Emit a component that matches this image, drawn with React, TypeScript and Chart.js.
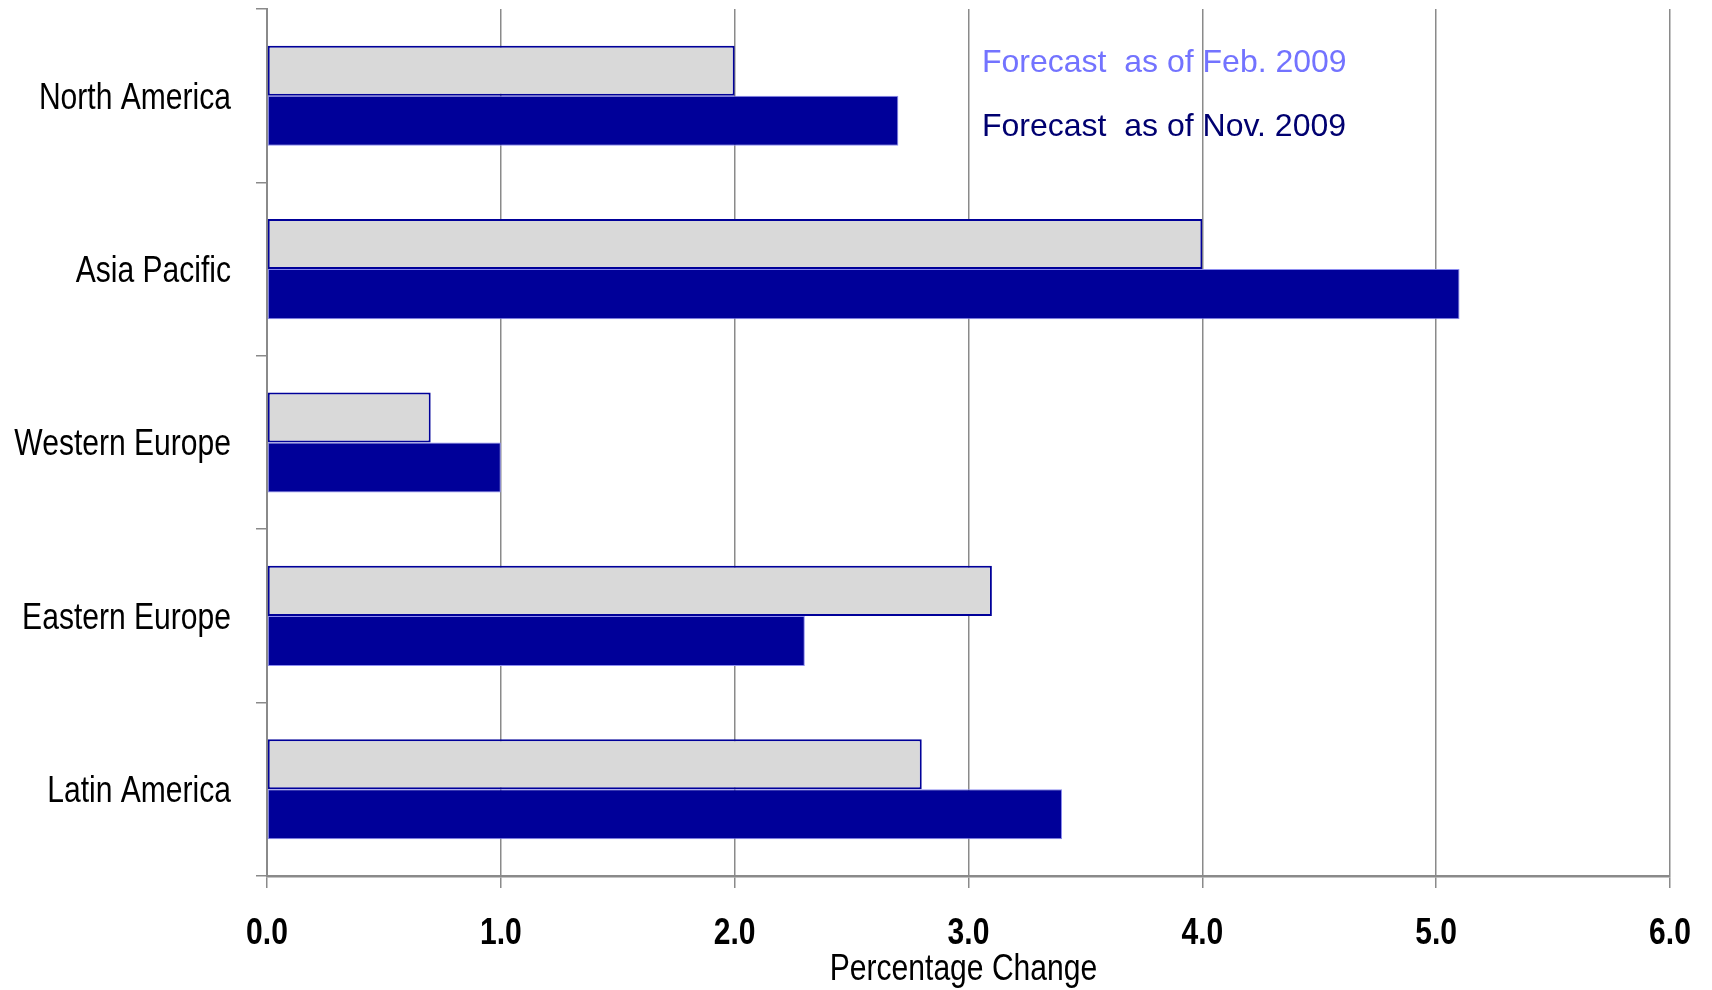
import React, { useEffect, useRef } from "react";
import { Chart, registerables } from "chart.js";

Chart.register(...registerables);

const categories = ["North America", "Asia Pacific", "Western Europe", "Eastern Europe", "Latin America"];
const febForecast = [2.0, 4.0, 0.7, 3.1, 2.8];
const novForecast = [2.7, 5.1, 1.0, 2.3, 3.4];
const seriesLabels = ["Forecast  as of Feb. 2009", "Forecast  as of Nov. 2009"];
const legendColors = ["#7373ff", "#000070"];
const xMin = 0;
const xMax = 6;
const xStep = 1;
const xTitle = "Percentage Change";

const SANS = "'Liberation Sans', Arial, Helvetica, sans-serif";
const NARROW_X = 0.835; // horizontal squeeze to mimic a narrow face
const GRID = "#8a8a8a";

function narrowText(ctx: any, text: string, x: number, y: number, align: string, font: string, color: string) {
  ctx.save();
  ctx.font = font;
  ctx.fillStyle = color;
  ctx.textAlign = align;
  ctx.textBaseline = "alphabetic";
  ctx.translate(x, y);
  ctx.scale(NARROW_X, 1);
  ctx.fillText(text, 0, 0);
  ctx.restore();
}

const textPlugin = {
  id: "narrowLabels",
  afterDraw(chart: any) {
    const ctx = chart.ctx;
    const xs = chart.scales.x;
    const ys = chart.scales.y;
    // category labels
    chart.data.labels.forEach((lab: string, i: number) => {
      const y = ys.getPixelForTick(i);
      narrowText(ctx, lab, ys.right - 36, y + 12.8, "right", `36px ${SANS}`, "#000");
    });
    // x tick labels
    xs.ticks.forEach((t: any) => {
      const x = xs.getPixelForValue(t.value);
      narrowText(ctx, Number(t.value).toFixed(1), x, xs.top + 68, "center", `bold 36px ${SANS}`, "#000");
    });
    // x title
    narrowText(ctx, xTitle, (xs.left + xs.right) / 2 - 5, xs.top + 104, "center", `36px ${SANS}`, "#000");
    // legend text
    ctx.save();
    ctx.font = `32px ${SANS}`;
    ctx.textAlign = "left";
    ctx.textBaseline = "alphabetic";
    const lx = 982;
    const lys = [72, 136];
    chart.data.datasets.forEach((ds: any, i: number) => {
      ctx.fillStyle = legendColors[i];
      ctx.fillText(ds.label, lx, lys[i]);
    });
    ctx.restore();
  },
};

export default function App() {
  const ref = useRef<HTMLCanvasElement | null>(null);
  useEffect(() => {
    document.body.style.margin = "0";
    const chart = new Chart(ref.current as HTMLCanvasElement, {
      type: "bar",
      data: {
        labels: categories,
        datasets: [
          {
            label: seriesLabels[0],
            data: febForecast,
            backgroundColor: "#d9d9d9",
            borderColor: "#000099",
            borderWidth: 2,
            borderSkipped: false,
            categoryPercentage: 0.577,
            barPercentage: 1,
          },
          {
            label: seriesLabels[1],
            data: novForecast,
            backgroundColor: "#000099",
            borderColor: "#8c8cf0",
            borderWidth: 1,
            borderSkipped: false,
            categoryPercentage: 0.577,
            barPercentage: 1,
          },
        ],
      },
      options: {
        indexAxis: "y",
        responsive: false,
        animation: false,
        devicePixelRatio: 1,
        layout: { padding: { left: 0, right: 42, top: 9, bottom: 0 } },
        plugins: {
          legend: { display: false },
          tooltip: { enabled: false },
        },
        scales: {
          x: {
            type: "linear",
            position: "bottom",
            min: xMin,
            max: xMax,
            ticks: {
              stepSize: xStep,
              display: false,
            },
            grid: {
              color: GRID,
              lineWidth: 1.5,
              tickLength: 12,
              drawTicks: true,
            },
            border: { color: GRID, width: 2.5 },
            afterFit: (s: any) => {
              s.height = 114;
              s.paddingLeft = 0;
              s.paddingRight = 0;
            },
          },
          y: {
            type: "category",
            ticks: { display: false },
            grid: {
              color: GRID,
              lineWidth: 1.5,
              drawOnChartArea: false,
              tickLength: 11,
              offset: true,
            },
            border: { color: GRID, width: 2 },
            afterFit: (s: any) => {
              s.width = 267;
              s.paddingTop = 0;
              s.paddingBottom = 0;
            },
          },
        },
      },
      plugins: [textPlugin],
    } as any);
    return () => chart.destroy();
  }, []);
  return (
    <div style={{ position: "fixed", left: 0, top: 0, width: 1712, height: 990, background: "#fff" }}>
      <canvas ref={ref} width={1712} height={990} />
    </div>
  );
}
